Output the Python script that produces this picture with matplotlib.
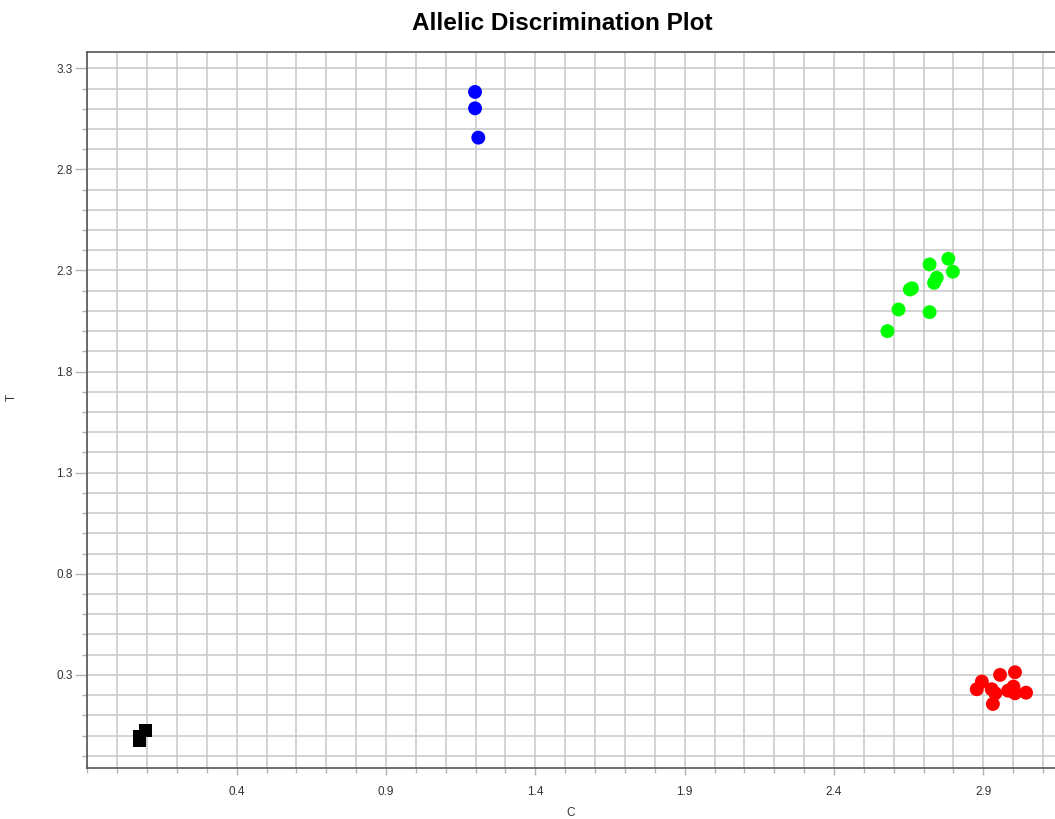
import matplotlib
matplotlib.use("Agg")
import matplotlib.pyplot as plt
from matplotlib.ticker import FixedLocator
import numpy as np

plt.rcParams['font.family'] = ['Liberation Sans', 'DejaVu Sans']

# 各分型的信号值 (C 轴, T 轴)
allele_t_x = [1.198, 1.198, 1.209]
allele_t_y = [3.183, 3.102, 2.957]

hetero_x = [2.579, 2.616, 2.654, 2.661, 2.720, 2.720, 2.735, 2.744, 2.783, 2.798]
hetero_y = [2.000, 2.107, 2.206, 2.212, 2.330, 2.094, 2.239, 2.264, 2.358, 2.294]

allele_c_x = [2.956, 3.006, 2.895, 2.878, 2.928, 2.940, 2.932, 3.001, 3.006, 3.043, 2.983]
allele_c_y = [0.300, 0.313, 0.267, 0.229, 0.229, 0.209, 0.156, 0.242, 0.209, 0.212, 0.222]

ntc_x = [0.096, 0.074, 0.074]
ntc_y = [0.024, -0.005, -0.025]

x_major = [0.4, 0.9, 1.4, 1.9, 2.4, 2.9]
y_major = [0.3, 0.8, 1.3, 1.8, 2.3, 2.8, 3.3]

fig = plt.figure(figsize=(10.55, 8.19), dpi=100)
ax = fig.add_axes([86.7 / 1055, 1 - 768.3 / 819, 1 - 86.7 / 1055, (768.3 - 51.7) / 819])

ax.set_xlim(-0.1023, 3.140)
ax.set_ylim(-0.162, 3.382)

# 网格 每 0.1 一条
ax.xaxis.set_major_locator(FixedLocator(x_major))
ax.yaxis.set_major_locator(FixedLocator(y_major))
ax.xaxis.set_minor_locator(FixedLocator(np.round(np.arange(-0.1, 3.15, 0.1), 2)))
ax.yaxis.set_minor_locator(FixedLocator(np.round(np.arange(-0.1, 3.4, 0.1), 2)))
ax.grid(True, which='both', color='#c8c8c8', linewidth=1.1, zorder=0)
ax.set_axisbelow(True)

ax.tick_params(axis='both', which='both', color='#b4b4b4', width=1.0, direction='out',
               labelsize=8.5, labelcolor='#333333')
ax.tick_params(axis='y', which='major', length=8.5, pad=1.5)
ax.tick_params(axis='y', which='minor', length=3.6)
ax.tick_params(axis='x', which='major', length=5, pad=8)
ax.tick_params(axis='x', which='minor', length=3.6)
ax.set_xticklabels([f"{v:.1f}" for v in x_major])
ax.set_yticklabels([f"{v:.1f}" for v in y_major])

for side in ['left', 'bottom', 'top']:
    ax.spines[side].set_color('#555555')
    ax.spines[side].set_linewidth(1.2)
ax.spines['right'].set_visible(False)

ax.scatter(allele_t_x, allele_t_y, s=100, color='#0000ff', edgecolors='none', zorder=3)
ax.scatter(hetero_x, hetero_y, s=100, color='#00ff00', edgecolors='none', zorder=3)
ax.scatter(allele_c_x, allele_c_y, s=100, color='#ff0000', edgecolors='none', zorder=3)
ax.scatter(ntc_x, ntc_y, s=88, marker='s', color='black', edgecolors='none', zorder=3)

ax.set_xlabel('C', fontsize=8.5, color='#333333')
ax.set_ylabel('T', fontsize=8.5, color='#333333')
ax.xaxis.set_label_coords(0.5, -0.0535)
ax.yaxis.set_label_coords(-0.071, 0.517)

fig.text(562.5 / 1055, 1 - 23 / 819, 'Allelic Discrimination Plot', ha='center', va='center',
         fontsize=17.5, fontweight='bold', color='black')

fig.savefig('out.png', dpi=100)
